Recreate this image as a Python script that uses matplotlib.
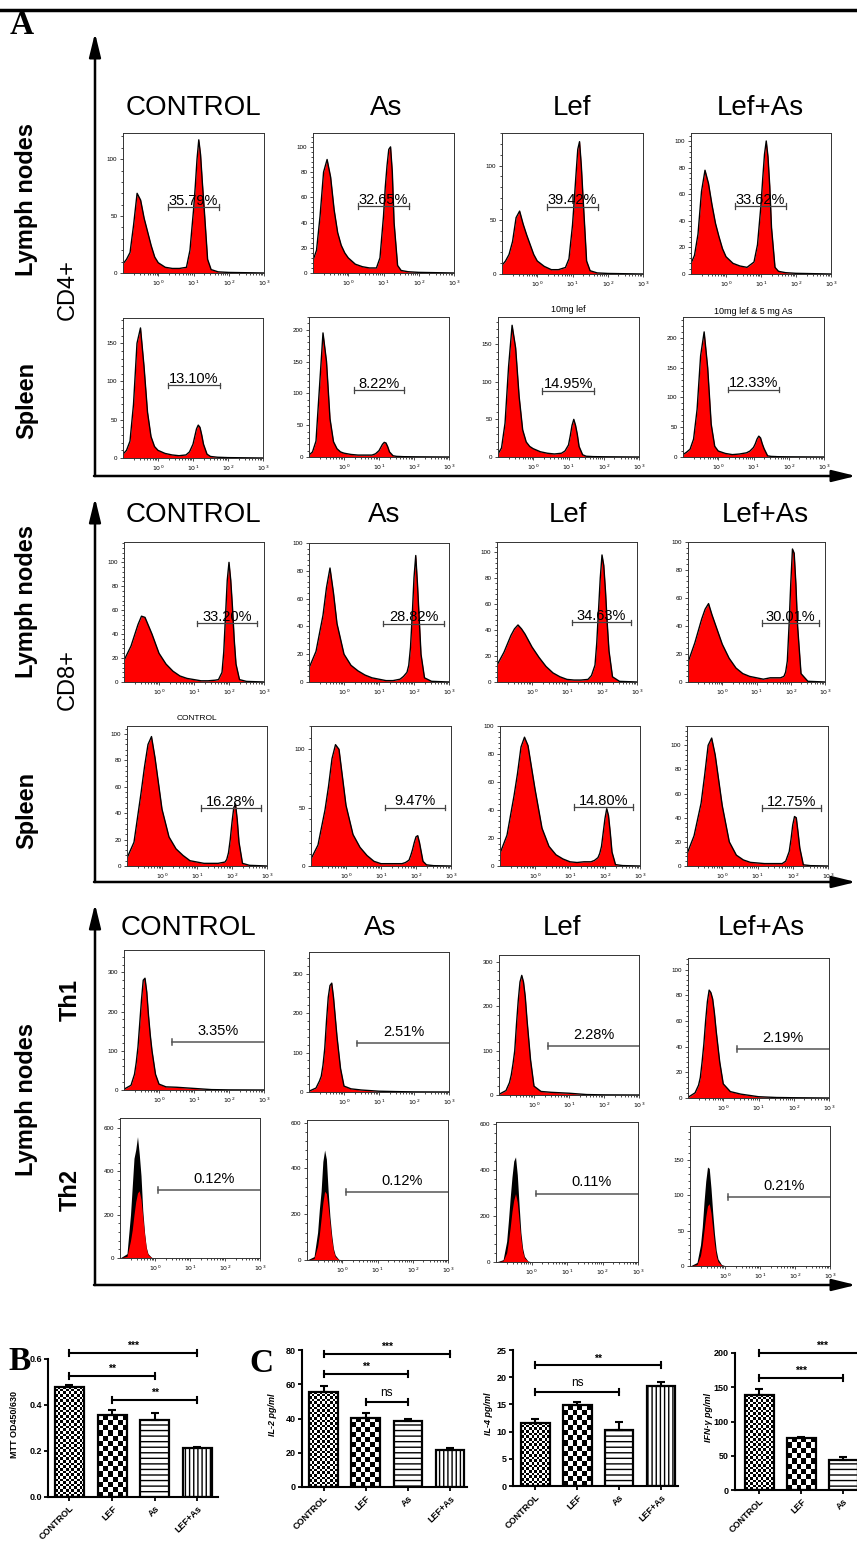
import numpy as np
import matplotlib.pyplot as plt
from matplotlib.ticker import MultipleLocator, AutoMinorLocator, FixedLocator

W, H = 857, 1542
plt.rcParams['font.family'] = ['Liberation Sans', 'DejaVu Sans']
plt.rcParams['hatch.linewidth'] = 1.0

groups = ['CONTROL', 'As', 'Lef', 'Lef+As']

# flow histograms, x in decades from the left edge of the axis (0..4)
cd4_x = [0, 0.1, 0.2, 0.3, 0.4, 0.5, 0.6, 0.7, 0.8, 0.9, 1.0, 1.2, 1.4, 1.6, 1.8, 1.9,
         2.0, 2.05, 2.1, 2.15, 2.2, 2.25, 2.3, 2.4, 2.5, 2.7, 3.0, 4.0]
cd4_ln_control = [8, 12, 18, 42, 70, 64, 48, 36, 24, 14, 9, 5, 4, 4, 5, 20, 55, 76, 100, 117, 104, 80, 58, 12, 3, 1, 0.5, 0]
cd4_ln_as = [10, 18, 45, 80, 90, 76, 50, 32, 22, 16, 12, 7, 5, 4, 4, 12, 45, 68, 85, 98, 100, 80, 40, 6, 2, 1, 0.5, 0]
cd4_ln_lef = [8, 12, 18, 30, 52, 58, 46, 36, 27, 18, 12, 7, 4, 4, 6, 14, 45, 68, 92, 115, 122, 100, 70, 12, 3, 1, 0.5, 0]
cd4_ln_lefas = [8, 14, 30, 62, 78, 68, 52, 38, 28, 19, 13, 8, 6, 5, 9, 22, 52, 72, 90, 100, 88, 66, 35, 5, 2, 1, 0.5, 0]
cd4_sp_control = [5, 10, 22, 70, 150, 170, 120, 60, 28, 15, 10, 6, 4, 3, 4, 8, 18, 28, 38, 43, 40, 30, 18, 5, 2, 1, 0.5, 0]
cd4_sp_as = [3, 8, 25, 110, 195, 150, 60, 24, 13, 8, 6, 4, 3, 3, 3, 5, 10, 15, 20, 23, 22, 16, 8, 2, 1, 0.5, 0.3, 0]
cd4_sp_lef = [4, 12, 45, 120, 175, 145, 80, 36, 20, 14, 11, 7, 5, 4, 5, 8, 16, 28, 42, 50, 42, 30, 14, 3, 1, 0.5, 0.3, 0]
cd4_sp_lefas = [4, 8, 13, 30, 80, 170, 210, 150, 55, 18, 10, 6, 4, 5, 7, 10, 16, 22, 30, 35, 32, 22, 14, 2, 1, 0.5, 0.3, 0]

cd8_x = [0, 0.2, 0.4, 0.5, 0.6, 0.7, 0.8, 1.0, 1.2, 1.4, 1.6, 1.8, 2.0, 2.2, 2.4, 2.6, 2.7,
         2.8, 2.85, 2.9, 2.95, 3.0, 3.05, 3.1, 3.15, 3.2, 3.3, 3.5, 4.0]
cd8_ln_control = [18, 30, 48, 55, 54, 47, 40, 24, 15, 9, 5, 3, 2, 1, 1, 1.5, 2, 8, 25, 55, 85, 100, 85, 62, 35, 15, 2, 0.5, 0]
cd8_ln_as = [10, 22, 48, 68, 82, 64, 42, 20, 12, 8, 5, 3, 2, 1, 1, 2, 4, 7, 12, 25, 48, 75, 91, 70, 45, 20, 3, 0.5, 0]
cd8_ln_lef = [13, 23, 36, 41, 44, 41, 37, 27, 19, 12, 7, 4, 2, 1.5, 1.5, 2, 5, 13, 30, 55, 80, 98, 90, 70, 45, 24, 4, 0.5, 0]
cd8_ln_lefas = [14, 28, 45, 52, 56, 48, 41, 27, 17, 10, 6, 4, 3, 2, 3, 3, 3, 4, 7, 15, 40, 70, 95, 92, 70, 40, 6, 0.5, 0]
cd8_sp_control = [6, 18, 55, 75, 92, 98, 82, 43, 22, 13, 8, 4, 3, 2, 2, 2, 2.5, 3, 5, 10, 20, 33, 44, 47, 35, 18, 2, 0.5, 0]
cd8_sp_as = [6, 18, 48, 68, 92, 104, 100, 52, 27, 16, 9, 4, 2, 2, 2, 2, 3, 5, 9, 14, 20, 25, 26, 20, 12, 4, 1, 0.3, 0]
cd8_sp_lef = [9, 22, 50, 66, 85, 92, 86, 55, 27, 14, 8, 5, 3, 2.5, 3, 3, 4, 6, 9, 14, 24, 34, 41, 36, 24, 10, 1, 0.3, 0]
cd8_sp_lefas = [10, 25, 52, 75, 100, 106, 92, 50, 20, 9, 5, 3, 2.5, 2, 2, 2, 2, 4, 8, 12, 22, 34, 41, 40, 28, 15, 1, 0.3, 0]

th_x = [0, 0.2, 0.3, 0.35, 0.4, 0.45, 0.5, 0.55, 0.6, 0.65, 0.7, 0.75, 0.8, 0.9, 1.0, 1.2, 1.5, 2.0, 2.5, 3.0, 4.0]
th1_control = [2, 12, 40, 70, 110, 170, 230, 280, 285, 250, 190, 140, 100, 40, 15, 8, 7, 4, 1, 0.3, 0]
th1_as = [2, 10, 28, 40, 68, 110, 180, 240, 270, 276, 240, 190, 140, 60, 15, 8, 5, 2, 1, 0.3, 0]
th1_lef = [1.5, 10, 28, 45, 70, 100, 160, 213, 255, 270, 255, 222, 170, 80, 20, 8, 6, 4, 1, 0.3, 0]
th1_lefas = [0.5, 4, 10, 16, 28, 42, 60, 75, 84, 82, 77, 66, 52, 28, 11, 5, 3, 1, 0.4, 0.2, 0]
th2_control = [0, 20, 200, 330, 460, 500, 560, 480, 380, 220, 120, 50, 20, 3, 1, 0, 0, 0, 0, 0, 0]
th2_control_red = [0, 8, 80, 130, 200, 260, 300, 310, 270, 190, 110, 45, 15, 2, 0.5, 0, 0, 0, 0, 0, 0]
th2_as = [0, 15, 120, 220, 300, 430, 480, 440, 300, 190, 110, 50, 22, 3, 1, 0, 0, 0, 0, 0, 0]
th2_as_red = [0, 6, 60, 110, 180, 250, 300, 290, 230, 160, 90, 40, 15, 2, 0.5, 0, 0, 0, 0, 0, 0]
th2_lef = [0, 10, 90, 180, 280, 370, 440, 458, 380, 250, 130, 60, 25, 4, 1, 0, 0, 0, 0, 0, 0]
th2_lef_red = [0, 5, 40, 90, 150, 220, 270, 298, 260, 180, 100, 45, 18, 3, 0.5, 0, 0, 0, 0, 0, 0]
th2_lefas = [0, 5, 30, 55, 90, 120, 140, 138, 110, 75, 45, 22, 10, 2, 0.5, 0, 0, 0, 0, 0, 0]
th2_lefas_red = [0, 2, 15, 30, 50, 70, 85, 88, 75, 52, 30, 14, 6, 1, 0.3, 0, 0, 0, 0, 0, 0]

# gates: (start, end, height) in data units, and the percentages
cd4_ln_gates = [(1.29, 2.71, 58), (1.27, 2.71, 53), (1.28, 2.72, 62), (1.27, 2.71, 51)]
cd4_ln_pct = ['35.79%', '32.65%', '39.42%', '33.62%']
cd4_sp_gates = [(1.29, 2.77, 95), (1.28, 2.71, 105), (1.26, 2.72, 88), (1.28, 2.71, 113)]
cd4_sp_pct = ['13.10%', '8.22%', '14.95%', '12.33%']
cd8_ln_gates = [(2.09, 3.81, 49), (2.12, 3.85, 42), (2.14, 3.83, 46), (2.17, 3.83, 42)]
cd8_ln_pct = ['33.20%', '28.82%', '34.63%', '30.01%']
cd8_sp_gates = [(2.11, 3.83, 44), (2.11, 3.84, 50), (2.12, 3.81, 42), (2.12, 3.81, 48)]
cd8_sp_pct = ['16.28%', '9.47%', '14.80%', '12.75%']
th1_gates = [(1.38, 4.0, 123), (1.38, 4.0, 123), (1.41, 4.0, 111), (1.40, 4.0, 38)]
th1_pct = ['3.35%', '2.51%', '2.28%', '2.19%']
th2_gates = [(1.08, 4.0, 315), (1.10, 4.0, 297), (1.13, 4.0, 298), (1.08, 4.0, 98)]
th2_pct = ['0.12%', '0.12%', '0.11%', '0.21%']

# bar charts
bar_groups = ['CONTROL', 'LEF', 'As', 'LEF+As']
mtt_mean = [0.48, 0.355, 0.335, 0.215]
mtt_err = [0.008, 0.025, 0.03, 0.003]
mtt_sig = [(0, 3, 0.626, '***'), (0, 2, 0.526, '**'), (1, 3, 0.422, '**')]
il2_mean = [55.5, 40.5, 38.5, 21.5]
il2_err = [3.2, 2.5, 1.3, 1.5]
il2_sig = [(0, 3, 77.7, '***'), (0, 2, 66, '**'), (1, 2, 49.6, 'ns')]
il4_mean = [11.6, 14.8, 10.3, 18.3]
il4_err = [0.8, 0.7, 1.5, 0.9]
il4_sig = [(0, 3, 22.2, '**'), (0, 2, 17.3, 'ns')]
ifn_mean = [139, 76, 43.5, 30]
ifn_err = [8, 2, 5, 3]
ifn_sig = [(0, 3, 200, '***'), (0, 2, 163.5, '***')]

fig = plt.figure(figsize=(W / 100, H / 100), dpi=100)
bg = fig.add_axes([0, 0, 1, 1], zorder=-1)
bg.set_xlim(0, W)
bg.set_ylim(H, 0)
bg.axis('off')


def px_axes(l, t, r, b):
    return fig.add_axes([l / W, 1 - b / H, (r - l) / W, (b - t) / H])


def arrow(x0, y0, x1, y1):
    bg.annotate('', xy=(x1, y1), xytext=(x0, y0),
                arrowprops=dict(arrowstyle='-|>,head_length=0.9,head_width=0.22', lw=1.8,
                                color='k', mutation_scale=16, shrinkA=0, shrinkB=0))


bg.plot([0, W], [10, 10], color='k', lw=2.5)
for top, bottom in [(33, 476), (498, 882), (904, 1285)]:
    arrow(95, bottom, 95, top)
    arrow(94, bottom, 856, bottom)

serif = ['Liberation Serif', 'DejaVu Serif']
bg.text(10, 26, 'A', fontsize=24, fontweight='bold', family=serif, va='center')
bg.text(8, 1362, 'B', fontsize=24, fontweight='bold', family=serif, va='center')
bg.text(249, 1364, 'C', fontsize=24, fontweight='bold', family=serif, va='center')

# row labels
for x, y, s, w in [(27, 200, 'Lymph nodes', 'bold'), (68, 290, 'CD4+', 'normal'), (27, 400, 'Spleen', 'bold'),
                   (27, 602, 'Lymph nodes', 'bold'), (68, 680, 'CD8+', 'normal'), (27, 810, 'Spleen', 'bold'),
                   (27, 1100, 'Lymph nodes', 'bold'), (70, 1000, 'Th1', 'bold'), (70, 1190, 'Th2', 'bold')]:
    bg.text(x, y, s, rotation=90, fontsize=17, fontweight=w, ha='center', va='center')

# column titles
for y, xs in [(108, [193, 386, 572, 760]), (515, [193, 384, 568, 765]), (928, [188, 380, 562, 761])]:
    for x, g in zip(xs, groups):
        bg.text(x, y, g, fontsize=20, ha='center', va='center')

bg.text(197, 719, 'CONTROL', fontsize=6, ha='center', va='center')
bg.text(568, 310, '10mg lef', fontsize=6.5, ha='center', va='center')
bg.text(753, 311, '10mg lef & 5 mg As', fontsize=6.5, ha='center', va='center')

rows = [
    dict(x=cd4_x, ys=[cd4_ln_control, cd4_ln_as, cd4_ln_lef, cd4_ln_lefas], red=None,
         boxes=[(123, 133, 264, 273), (313, 133, 454, 273), (502, 133, 643, 274), (691, 133, 831, 274)],
         tops=[123, 111, 130, 106], steps=[50, 20, 50, 20], gates=cd4_ln_gates, pct=cd4_ln_pct, open=False),
    dict(x=cd4_x, ys=[cd4_sp_control, cd4_sp_as, cd4_sp_lef, cd4_sp_lefas], red=None,
         boxes=[(123, 318, 263, 458), (309, 317, 449, 457), (498, 317, 639, 457), (683, 317, 824, 457)],
         tops=[183, 220, 186, 235], steps=[50, 50, 50, 50], gates=cd4_sp_gates, pct=cd4_sp_pct, open=False),
    dict(x=cd8_x, ys=[cd8_ln_control, cd8_ln_as, cd8_ln_lef, cd8_ln_lefas], red=None,
         boxes=[(124, 542, 264, 682), (309, 543, 449, 682), (497, 542, 637, 682), (688, 542, 825, 682)],
         tops=[117, 100, 108, 100], steps=[20, 20, 20, 20], gates=cd8_ln_gates, pct=cd8_ln_pct, open=False),
    dict(x=cd8_x, ys=[cd8_sp_control, cd8_sp_as, cd8_sp_lef, cd8_sp_lefas], red=None,
         boxes=[(127, 726, 267, 866), (311, 726, 451, 866), (500, 726, 640, 866), (687, 726, 828, 866)],
         tops=[106, 120, 100, 116], steps=[20, 50, 20, 20], gates=cd8_sp_gates, pct=cd8_sp_pct, open=False),
    dict(x=th_x, ys=[th1_control, th1_as, th1_lef, th1_lefas], red=None,
         boxes=[(124, 950, 264, 1090), (309, 952, 449, 1092), (499, 955, 639, 1095), (688, 958, 829, 1098)],
         tops=[357, 355, 316, 109], steps=[100, 100, 100, 20], gates=th1_gates, pct=th1_pct, open=True),
    dict(x=th_x, ys=[th2_control, th2_as, th2_lef, th2_lefas],
         red=[th2_control_red, th2_as_red, th2_lef_red, th2_lefas_red],
         boxes=[(120, 1118, 260, 1258), (307, 1120, 448, 1260), (496, 1122, 638, 1262), (690, 1126, 830, 1266)],
         tops=[646, 611, 610, 198], steps=[200, 200, 200, 50], gates=th2_gates, pct=th2_pct, open=True),
]

minor_x = [d + np.log10(k) for d in range(4) for k in range(2, 10)]
for row in rows:
    for i in range(4):
        ax = px_axes(*row['boxes'][i])
        ys = row['ys'][i]
        if row['red'] is None:
            ax.fill_between(row['x'], ys, color='#ff0000', lw=0)
            ax.plot(row['x'], ys, color='k', lw=1.0)
        else:
            ax.fill_between(row['x'], ys, color='k', lw=0)
            ax.fill_between(row['x'], row['red'][i], color='#ff0000', lw=0)
        ax.set_xlim(0, 4)
        ax.set_ylim(0, row['tops'][i])
        ax.set_xticks([1, 2, 3, 4])
        ax.set_xticklabels([r'$10^0$', r'$10^1$', r'$10^2$', r'$10^3$'])
        ax.xaxis.set_minor_locator(FixedLocator(minor_x))
        ax.yaxis.set_major_locator(MultipleLocator(row['steps'][i]))
        ax.yaxis.set_minor_locator(AutoMinorLocator(5))
        ax.tick_params(which='both', direction='out', width=0.5, labelsize=4.5, pad=1.5,
                       top=False, right=False)
        ax.tick_params(which='major', length=2.5)
        ax.tick_params(which='minor', length=1.5)
        for sp in ax.spines.values():
            sp.set_linewidth(0.7)
            sp.set_color('#333333')
        x0, x1, gy = row['gates'][i]
        cap = row['tops'][i] * 0.02
        if row['open']:
            ax.plot([x0, x1], [gy, gy], color='#555555', lw=1.1, clip_on=False)
            ax.plot([x0, x0], [gy - cap, gy + cap], color='#555555', lw=1.1)
            ax.annotate(row['pct'][i], (2.7, gy), xytext=(0, 3), textcoords='offset points',
                        ha='center', va='bottom', fontsize=10.5)
        else:
            ax.plot([x0, x1], [gy, gy], color='#444444', lw=0.9)
            for xx in (x0, x1):
                ax.plot([xx, xx], [gy - cap, gy + cap], color='#444444', lw=0.9)
            ax.annotate(row['pct'][i], ((x0 + x1) / 2, gy), xytext=(0, -0.5), textcoords='offset points',
                        ha='center', va='bottom', fontsize=10.5)


def checker(ax, bar, cell):
    x0, y0, w, h = bar.get_x(), bar.get_y(), bar.get_width(), bar.get_height()
    p0 = ax.transData.transform((x0, y0))
    p1 = ax.transData.transform((x0 + w, y0 + h))
    nx = max(1, int(round((p1[0] - p0[0]) / cell)))
    ny = max(1, int(round((p1[1] - p0[1]) / cell)))
    board = np.indices((ny, nx)).sum(axis=0) % 2
    im = ax.imshow(board, cmap='gray', vmin=0, vmax=1, extent=(x0, x0 + w, y0, y0 + h),
                   origin='lower', interpolation='nearest', aspect='auto', zorder=2)
    im.set_clip_path(bar)


def bar_panel(box, xlim, top, step, fmt, means, errs, sigs, ylabel, ylx):
    ax = px_axes(*box)
    ax.set_xlim(*xlim)
    ax.set_ylim(0, top)
    pos = np.arange(len(means))
    bars = ax.bar(pos, means, width=0.68, facecolor='none', edgecolor='k', lw=1.6, zorder=3)
    checker(ax, bars[0], 2.6)
    checker(ax, bars[1], 5.0)
    bars[2].set_hatch('---')
    bars[3].set_hatch('||||')
    ax.set_xlim(*xlim)
    ax.set_ylim(0, top)
    ax.errorbar(pos, means, yerr=[np.zeros(len(means)), errs], fmt='none', ecolor='k',
                elinewidth=1.5, capsize=3, capthick=1.5, zorder=4)
    cap = top * 0.022
    for i, j, y, s in sigs:
        ax.plot([i, j], [y, y], color='k', lw=1.5, clip_on=False)
        for xx in (i, j):
            ax.plot([xx, xx], [y - cap, y + cap], color='k', lw=1.5, clip_on=False)
        if s == 'ns':
            ax.text((i + j) / 2, y + cap, s, ha='center', va='bottom', fontsize=8.5)
        else:
            ax.text((i + j) / 2, y + cap * 0.6, s, ha='center', va='bottom', fontsize=7.5, fontweight='bold')
    ax.spines['top'].set_visible(False)
    ax.spines['right'].set_visible(False)
    ax.spines['left'].set_linewidth(1.5)
    ax.spines['bottom'].set_linewidth(1.5)
    ax.yaxis.set_major_locator(MultipleLocator(step))
    ax.set_yticklabels([fmt.format(v) for v in ax.get_yticks()])
    ax.set_ylim(0, top)
    ax.set_xticks(pos)
    ax.set_xticklabels(bar_groups, rotation=45, ha='right', rotation_mode='anchor',
                       fontsize=6.5, fontweight='bold')
    ax.tick_params(axis='y', labelsize=6.5, width=1.3, length=3, pad=1.5)
    ax.tick_params(axis='x', width=1.3, length=3, pad=2)
    for t in ax.get_yticklabels():
        t.set_fontweight('bold')
    bg.text(ylx, (box[1] + box[3]) / 2 - 4, ylabel, rotation=90, ha='center', va='center',
            fontsize=6.5, fontweight='bold', style='normal' if ylabel.startswith('MTT') else 'italic')
    return ax


bar_panel((48, 1359, 218, 1497), (-0.5, 3.48), 0.6, 0.2, '{:.1f}', mtt_mean, mtt_err, mtt_sig,
          'MTT OD450/630', 15)
bar_panel((302, 1350, 467, 1487), (-0.51, 3.4), 80, 20, '{:.0f}', il2_mean, il2_err, il2_sig,
          'IL-2 pg/ml', 273)
bar_panel((513, 1350, 678, 1486), (-0.53, 3.4), 25, 5, '{:.0f}', il4_mean, il4_err, il4_sig,
          'IL-4 pg/ml', 489)
bar_panel((735, 1353, 902, 1490), (-0.58, 3.4), 200, 50, '{:.0f}', ifn_mean, ifn_err, ifn_sig,
          'IFN-γ pg/ml', 709)

fig.savefig('out.png', dpi=100)
